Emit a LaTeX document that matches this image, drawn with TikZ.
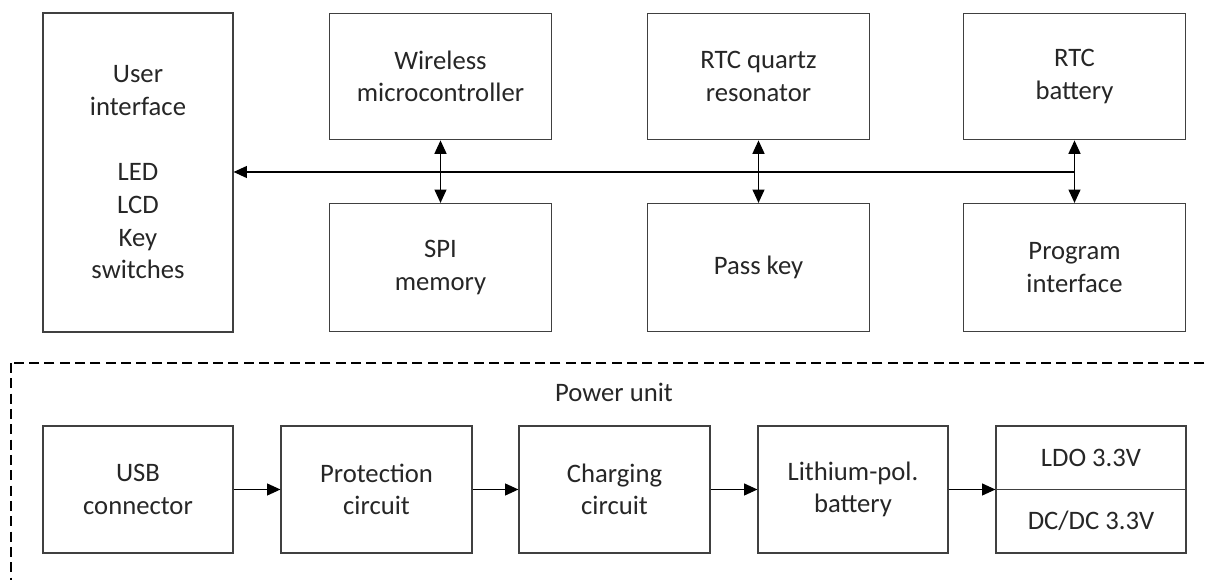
\documentclass[tikz,border=0pt]{standalone}
\usepackage{fontspec}
\setmainfont{Carlito}
\usetikzlibrary{arrows.meta}
\definecolor{ln}{HTML}{404040}
\definecolor{tx}{HTML}{262626}
\tikzset{
  txt/.style={text=tx, font=\fontsize{20}{24.5}\selectfont},
  blk/.style={txt, draw=ln, line width=0.9pt, inner sep=0pt, align=center},
  conn/.style={draw=black, line width=0.9pt, -{Triangle[length=10pt,width=9pt]}},
  dconn/.style={draw=black, line width=0.9pt, {Triangle[length=10pt,width=9pt]}-{Triangle[length=10pt,width=9pt]}},
  grp/.style={draw=black, line width=0.8pt, dash pattern=on 7.5pt off 4pt}
}
\begin{document}
\begin{tikzpicture}[x=0.75pt,y=-0.75pt]
\useasboundingbox (0,0) rectangle (1207,580);
\begin{scope}
\clip (0,0) rectangle (1207,580);
\draw[grp] (11,363) rectangle (1240,620);
\end{scope}
% top row
\node[blk, minimum width=142.5pt, minimum height=239.25pt] (ui) at (138,172.5) {User\\interface\\ \\LED\\LCD\\Key\\switches};
\node[blk, minimum width=167pt, minimum height=95pt] (wm) at (440.5,76.5) {Wireless\\microcontroller};
\node[blk, minimum width=167pt, minimum height=95pt] (rq) at (758.5,76.5) {RTC quartz\\resonator};
\node[blk, minimum width=167pt, minimum height=95pt] (rb) at (1074.5,76.5) {RTC\\battery};
\node[blk, minimum width=167pt, minimum height=96pt] (spi) at (440.5,267.5) {SPI\\memory};
\node[blk, minimum width=167pt, minimum height=96pt] (pk) at (758.5,267.5) {Pass key};
\node[blk, minimum width=167pt, minimum height=96pt] (pi) at (1074.5,267.5) {Program\\interface};
% bus
\coordinate (b3) at (1074.5,172);
\draw[conn] (b3) -- (b3 -| ui.east);
\draw[dconn] (wm.south) -- (spi.north);
\draw[dconn] (rq.south) -- (pk.north);
\draw[dconn] (rb.south) -- (pi.north);
% power unit
\node[txt] (pu) at (614,392) {Power unit};
\node[blk, minimum width=142.5pt, minimum height=95.25pt] (usb) at (138,489.5) {USB\\connector};
\node[blk, minimum width=143.25pt, minimum height=95.25pt] (pc) at (376.5,489.5) {Protection\\circuit};
\node[blk, minimum width=143.25pt, minimum height=95.25pt] (cc) at (614.5,489.5) {Charging\\circuit};
\node[blk, minimum width=142.5pt, minimum height=95.25pt] (lb) at (853,489.5) {Lithium-pol.\\battery};
\node[blk, minimum width=142.5pt, minimum height=95.25pt] (reg) at (1091,489.5) {};
\draw[ln, line width=0.9pt] (reg.west) -- (reg.east);
\node[txt] (ldo) at (1091,458) {LDO 3.3V};
\node[txt] (dcdc) at (1091,521) {DC/DC 3.3V};
\draw[conn] (usb.east) -- (pc.west);
\draw[conn] (pc.east) -- (cc.west);
\draw[conn] (cc.east) -- (lb.west);
\draw[conn] (lb.east) -- (reg.west);
\end{tikzpicture}
\end{document}
